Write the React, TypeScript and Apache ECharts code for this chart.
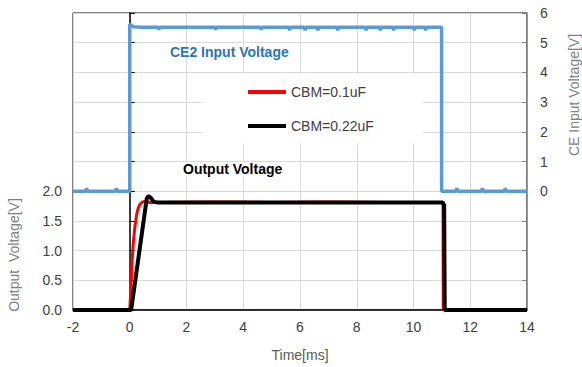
import React, { useEffect, useRef } from "react";
import * as echarts from "echarts";

// CE2 input voltage (right axis)
const ceTime = [-2, -1.55, -1.52, -1.49, -0.5, -0.47, -0.44, 0, 0, 0.12, 0.4, 1.0, 1.03, 1.06, 3.0, 3.03, 3.06, 4.6, 4.63, 4.66, 5.6, 5.63, 5.66, 6.15, 6.18, 6.21, 6.6, 6.63, 6.66, 7.3, 7.33, 7.36, 8.3, 8.33, 8.36, 8.8, 8.83, 8.86, 9.27, 9.3, 9.33, 10.0, 10.03, 10.06, 10.4, 10.43, 10.46, 10.99, 10.99, 11.5, 11.53, 11.56, 12.4, 12.43, 12.46, 13.2, 13.23, 13.26, 14];
const ceVolt = [0, 0, 0.1, 0, 0, 0.1, 0, 0, 5.62, 5.54, 5.52, 5.52, 5.44, 5.52, 5.52, 5.44, 5.52, 5.52, 5.44, 5.52, 5.52, 5.42, 5.52, 5.52, 5.42, 5.52, 5.52, 5.42, 5.52, 5.52, 5.42, 5.52, 5.52, 5.42, 5.52, 5.52, 5.42, 5.52, 5.52, 5.42, 5.52, 5.52, 5.42, 5.52, 5.52, 5.42, 5.52, 5.52, 0, 0, 0.1, 0, 0, 0.1, 0, 0, 0.1, 0, 0];

// Output voltage, CBM=0.1uF (left axis)
const redTime = [-2, 0, 0.04, 0.08, 0.12, 0.18, 0.24, 0.3, 0.36, 0.45, 0.55, 0.7, 1.0, 3.0, 5.0, 7.0, 9.0, 11.0, 11.04, 11.05, 14];
const redVolt = [0, 0, 0.35, 0.8, 1.1, 1.4, 1.6, 1.72, 1.78, 1.82, 1.83, 1.81, 1.81, 1.82, 1.81, 1.82, 1.81, 1.81, 1.78, 0, 0];

// Output voltage, CBM=0.22uF (left axis)
const blackTime = [-2, 0.05, 0.6, 0.66, 0.74, 0.85, 1.0, 3.0, 5.0, 7.0, 9.0, 11.03, 11.08, 11.1, 14];
const blackVolt = [0, 0, 1.88, 1.92, 1.89, 1.82, 1.81, 1.81, 1.81, 1.81, 1.81, 1.81, 1.76, 0, 0];

const xTicks = { min: -2, max: 14, interval: 2 };
const leftTicks = { min: 0, max: 5, interval: 0.5, maxLabel: 2 };
const rightTicks = { min: -4, max: 6, interval: 1, minLabel: 0 };

const seriesNames = ["CBM=0.1uF", "CBM=0.22uF", "CE2 Input Voltage"];

const FONT = "Liberation Sans, Arial, sans-serif";

function zip(a: number[], b: number[]) {
  return a.map((v, i) => [v, b[i]]);
}

export default function App() {
  const ref = useRef<HTMLDivElement>(null);
  useEffect(() => {
    document.body.style.margin = "0";
    const chart = echarts.init(ref.current!, null, { renderer: "svg" });
    chart.setOption({
      animation: false,
      backgroundColor: "#fff",
      textStyle: { fontFamily: FONT },
      grid: {
        left: 73,
        right: 55,
        top: 13,
        bottom: 53,
        show: true,
        borderColor: "#000",
        borderWidth: 1,
      },
      legend: {
        data: [seriesNames[0], seriesNames[1]],
        orient: "vertical",
        left: 248,
        top: 84,
        padding: 0,
        itemWidth: 38,
        itemHeight: 4,
        itemGap: 18,
        icon: "rect",
        z: 10,
        textStyle: { color: "#404040", fontSize: 14, lineHeight: 16, fontFamily: FONT, padding: [0, 0, 0, 0] },
      },
      xAxis: {
        type: "value",
        min: xTicks.min,
        max: xTicks.max,
        interval: xTicks.interval,
        axisLine: { lineStyle: { color: "#000", width: 1.5 } },
        axisTick: { show: false },
        axisLabel: { color: "#404040", fontSize: 14, margin: 10, fontFamily: FONT },
        splitLine: { show: true, lineStyle: { color: "#d9d9d9", width: 1 } },
        name: "Time[ms]",
        nameLocation: "middle",
        nameGap: 38,
        nameTextStyle: { color: "#595959", fontSize: 14, fontFamily: FONT },
      },
      yAxis: [
        {
          type: "value",
          position: "left",
          min: leftTicks.min,
          max: leftTicks.max,
          interval: leftTicks.interval,
          axisLine: { show: true, lineStyle: { color: "#000", width: 1.5 } },
          axisTick: { show: true, inside: true, length: 5, lineStyle: { color: "#000" } },
          axisLabel: {
            color: "#404040",
            fontSize: 14,
            margin: 11,
            fontFamily: FONT,
            formatter: (v: number) => (v <= leftTicks.maxLabel + 1e-9 ? v.toFixed(1) : ""),
          },
          splitLine: { show: true, lineStyle: { color: "#d9d9d9", width: 1 } },
        },
        {
          type: "value",
          position: "right",
          min: rightTicks.min,
          max: rightTicks.max,
          interval: rightTicks.interval,
          axisLine: { show: true, lineStyle: { color: "#808080", width: 1.5 } },
          axisTick: { show: true, inside: true, length: 5, lineStyle: { color: "#808080" } },
          axisLabel: {
            color: "#404040",
            fontSize: 14,
            margin: 13,
            fontFamily: FONT,
            formatter: (v: number) => (v >= rightTicks.minLabel ? String(v) : ""),
          },
          splitLine: { show: false },
        },
      ],
      series: [
        {
          name: seriesNames[0],
          type: "line",
          yAxisIndex: 0,
          data: zip(redTime, redVolt),
          showSymbol: false,
          symbol: "none",
          lineStyle: { color: "#ff0000", width: 3 },
          itemStyle: { color: "#ff0000" },
          z: 3,
        },
        {
          name: seriesNames[1],
          type: "line",
          yAxisIndex: 0,
          data: zip(blackTime, blackVolt),
          showSymbol: false,
          symbol: "none",
          lineStyle: { color: "#000000", width: 4 },
          itemStyle: { color: "#000000" },
          z: 4,
        },
        {
          name: seriesNames[2],
          type: "line",
          yAxisIndex: 1,
          data: zip(ceTime, ceVolt),
          showSymbol: false,
          symbol: "none",
          lineStyle: { color: "#5B9BD5", width: 3.5 },
          itemStyle: { color: "#5B9BD5" },
          z: 5,
        },
      ],
      graphic: [
        {
          type: "rect",
          z: 3,
          shape: { x: 202, y: 74, width: 221, height: 69 },
          style: { fill: "#fff" },
          silent: true,
        },
        {
          type: "text",
          z: 6,
          x: 170,
          y: 52,
          style: {
            text: "CE2 Input Voltage",
            fill: "#2E75B6",
            font: `bold 14px ${FONT}`,
            textAlign: "left",
            textVerticalAlign: "middle",
          },
        },
        {
          type: "text",
          z: 6,
          x: 183,
          y: 169,
          style: {
            text: "Output Voltage",
            fill: "#000",
            font: `bold 14px ${FONT}`,
            textAlign: "left",
            textVerticalAlign: "middle",
            backgroundColor: "#fff",
          },
        },
        {
          type: "text",
          z: 6,
          x: 14,
          y: 255,
          rotation: Math.PI / 2,
          style: {
            text: "Output  Voltage[V]",
            fill: "#808080",
            font: `14px ${FONT}`,
            textAlign: "center",
            textVerticalAlign: "middle",
          },
        },
        {
          type: "text",
          z: 6,
          x: 574,
          y: 95,
          rotation: Math.PI / 2,
          style: {
            text: "CE Input Voltage[V]",
            fill: "#808080",
            font: `14px ${FONT}`,
            textAlign: "center",
            textVerticalAlign: "middle",
          },
        },
      ],
    });
    return () => chart.dispose();
  }, []);
  return (
    <div
      ref={ref}
      style={{ width: 582, height: 367, position: "absolute", left: 0, top: 0 }}
    />
  );
}
